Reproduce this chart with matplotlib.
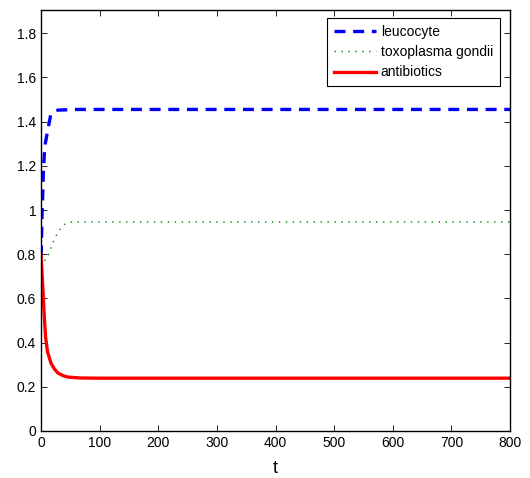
import matplotlib
matplotlib.use("Agg")
import matplotlib.pyplot as plt

plt.rcParams['font.family'] = ['Liberation Sans', 'DejaVu Sans']

# leucocyte
t_leu = [0, 0.6, 1.1, 1.8, 3, 4, 5.6, 7.3, 10.7, 16.5, 22, 29, 60, 800]
y_leu = [0.79, 0.82, 0.90, 0.99, 1.07, 1.17, 1.25, 1.30, 1.35, 1.43, 1.445, 1.452, 1.455, 1.455]
# toxoplasma gondii
t_tox = [0, 3, 6.5, 10, 15, 20, 25, 32, 40, 50, 70, 800]
y_tox = [0.80, 0.78, 0.772, 0.78, 0.815, 0.85, 0.88, 0.912, 0.935, 0.945, 0.946, 0.946]
# antibiotics
t_ant = [0, 2, 4, 6, 8, 11, 17, 23, 29, 38, 46, 66, 100, 800]
y_ant = [0.80, 0.70, 0.60, 0.50, 0.42, 0.36, 0.307, 0.28, 0.262, 0.25, 0.244, 0.24, 0.239, 0.239]

xticks = [0, 100, 200, 300, 400, 500, 600, 700, 800]
yticks = [0, 0.2, 0.4, 0.6, 0.8, 1.0, 1.2, 1.4, 1.6, 1.8]
yticklabels = ['0', '0.2', '0.4', '0.6', '0.8', '1', '1.2', '1.4', '1.6', '1.8']

fig = plt.figure(figsize=(5.3, 4.78), dpi=100)
ax = fig.add_axes([41/530, 47/478, 469/530, 421/478])

ax.plot(t_leu, y_leu, color='#0000ff', linestyle=(0, (3.3, 2.3)), linewidth=2.4, label='leucocyte')
ax.plot(t_tox, y_tox, color='#008000', linestyle=(0, (1, 4)), linewidth=1.0, label='toxoplasma gondii')
ax.plot(t_ant, y_ant, color='#ff0000', linestyle='-', linewidth=2.4, label='antibiotics')

ax.set_xlim(0, 800)
ax.set_ylim(0, 1.905)
ax.set_xticks(xticks)
ax.set_xticklabels([str(v) for v in xticks])
ax.set_yticks(yticks)
ax.set_yticklabels(yticklabels)
ax.tick_params(direction='in', top=True, right=True, labelsize=10, length=4, width=0.6)
for s in ax.spines.values():
    s.set_linewidth(1.0)
ax.set_xlabel('t', fontsize=13, labelpad=7)

leg = ax.legend(loc='upper right', bbox_to_anchor=(0.9787, 0.981), borderaxespad=0,
                fontsize=10, fancybox=False, framealpha=1,
                edgecolor='black', borderpad=0.5, labelspacing=0.45,
                handlelength=3.0, handletextpad=0.35)
leg.get_frame().set_linewidth(0.8)

fig.savefig('out.png', dpi=100)
